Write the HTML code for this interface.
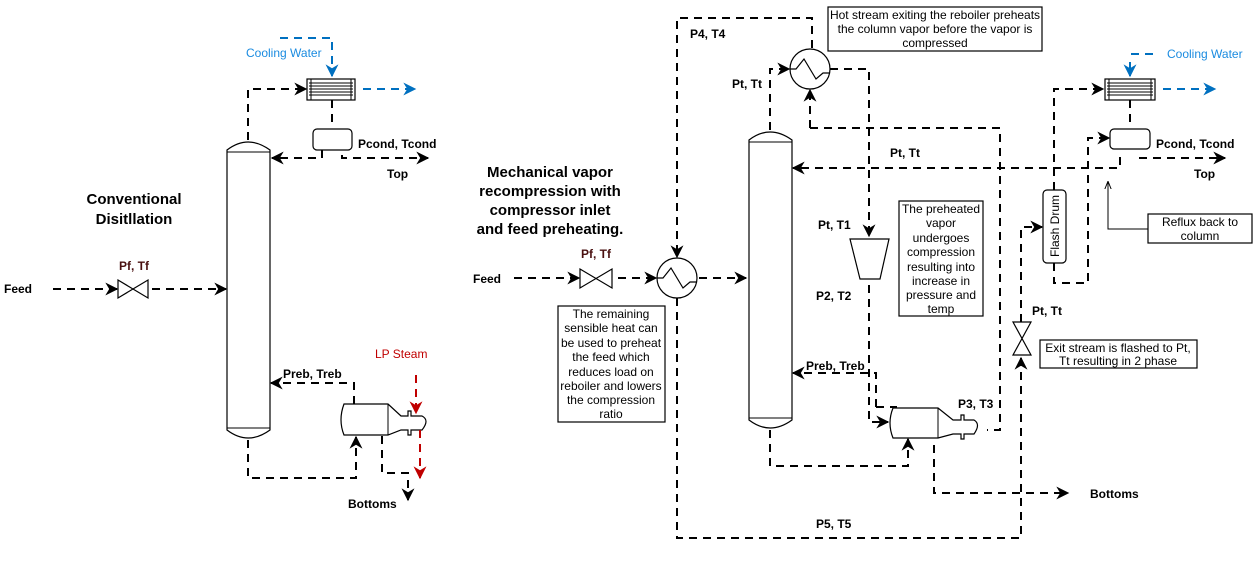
<!DOCTYPE html>
<html><head><meta charset="utf-8"><style>
html,body{margin:0;padding:0;background:#fff;}
svg{display:block;font-family:"Liberation Sans",Arial,sans-serif;}
.d{fill:none;stroke:#000;stroke-width:2;stroke-dasharray:8 6;}
.b{fill:none;stroke:#0070c0;stroke-width:2;stroke-dasharray:8 6;}
.r{fill:none;stroke:#c00000;stroke-width:2;stroke-dasharray:8 6;}
.s{fill:#fff;stroke:#000;stroke-width:1.2;}
.l{font-size:12px;font-weight:bold;}
.t{font-size:12px;text-anchor:middle;}
</style></head><body>
<svg width="1260" height="575" viewBox="0 0 1260 575" xmlns="http://www.w3.org/2000/svg">
<defs>
<marker id="a" viewBox="0 0 10 10" refX="9" refY="5" markerWidth="6.5" markerHeight="6.5" orient="auto"><path d="M0,0L10,5L0,10L3,5z" fill="#000"/></marker>
<marker id="ab" viewBox="0 0 10 10" refX="9" refY="5" markerWidth="6.5" markerHeight="6.5" orient="auto"><path d="M0,0L10,5L0,10L3,5z" fill="#0070c0"/></marker>
<marker id="ar" viewBox="0 0 10 10" refX="9" refY="5" markerWidth="6.5" markerHeight="6.5" orient="auto"><path d="M0,0L10,5L0,10L3,5z" fill="#c00000"/></marker>
<marker id="at" viewBox="0 0 10 10" refX="9" refY="5" markerWidth="8" markerHeight="8" orient="auto"><path d="M0,1L10,5L0,9" fill="none" stroke="#000" stroke-width="1.2"/></marker>
</defs>

<!-- ===== LEFT: Conventional ===== -->
<text x="134" y="204" class="l" style="font-size:15px" text-anchor="middle">Conventional</text>
<text x="134" y="224" class="l" style="font-size:15px" text-anchor="middle">Disitllation</text>
<path class="s" d="M227,150 Q248,134 270,150 L270,430 Q248,446 227,430 Z"/>
<line x1="227" y1="152" x2="270" y2="152" stroke="#000"/>
<line x1="227" y1="428" x2="270" y2="428" stroke="#000"/>
<path class="d" marker-end="url(#a)" d="M248,140 V89 H306"/>
<rect x="307" y="79" width="48" height="21" class="s"/>
<g stroke="#000" stroke-width="1"><line x1="309" y1="83" x2="353" y2="83"/><line x1="309" y1="86" x2="353" y2="86"/><line x1="309" y1="89" x2="353" y2="89"/><line x1="309" y1="92" x2="353" y2="92"/><line x1="309" y1="95" x2="353" y2="95"/><line x1="311" y1="79" x2="311" y2="100"/><line x1="351" y1="79" x2="351" y2="100"/></g>
<path class="b" marker-end="url(#ab)" d="M280,38 H332 V76"/>
<path class="b" marker-end="url(#ab)" d="M363,89 H415"/>
<text x="246" y="57" style="font-size:12px" fill="#1a8be0">Cooling Water</text>
<path class="d" d="M332,100 V128"/>
<rect x="313" y="129" width="39" height="21" rx="4" class="s"/>
<path class="d" marker-end="url(#a)" d="M322,150 V158 H272"/>
<path class="d" marker-end="url(#a)" d="M342,155 V158 H428"/>
<text x="358" y="148" class="l">Pcond, Tcond</text>
<text x="387" y="178" class="l">Top</text>
<text x="4" y="293" class="l">Feed</text>
<path class="d" marker-end="url(#a)" d="M53,289 H117"/>
<path class="s" d="M118,280 L148,298 L148,280 L118,298 Z"/>
<path class="d" marker-end="url(#a)" d="M152,289 H226"/>
<text x="119" y="270" class="l" fill="#4a1010">Pf, Tf</text>
<path class="d" marker-end="url(#a)" d="M248,440 V478 H356 V437"/>
<path class="d" marker-end="url(#a)" d="M354,404 V383 H271"/>
<text x="283" y="378" class="l">Preb, Treb</text>
<path class="s" d="M344,404 H388 L401,416 H408 V411 H411 V416 H422 Q430,420 422,430 H411 V435 H408 V430 H401 L388,435 H344 Q338,420 344,404 Z"/>
<line x1="388" y1="404" x2="388" y2="435" stroke="#000"/>
<path class="d" marker-end="url(#a)" d="M382,436 V473 H408 V500"/>
<text x="348" y="508" class="l">Bottoms</text>
<path class="r" marker-end="url(#ar)" d="M416,375 V413"/>
<path class="r" marker-end="url(#ar)" d="M420,430 V478"/>
<text x="375" y="358" style="font-size:12px" fill="#c00000">LP Steam</text>

<!-- ===== RIGHT: MVR ===== -->
<text x="550" y="177" class="l" style="font-size:15px" text-anchor="middle">Mechanical vapor</text>
<text x="550" y="196" class="l" style="font-size:15px" text-anchor="middle">recompression with</text>
<text x="550" y="215" class="l" style="font-size:15px" text-anchor="middle">compressor inlet</text>
<text x="550" y="234" class="l" style="font-size:15px" text-anchor="middle">and feed preheating.</text>
<path class="s" d="M749,140 Q770,124 792,140 L792,420 Q770,436 749,420 Z"/>
<line x1="749" y1="142" x2="792" y2="142" stroke="#000"/>
<line x1="749" y1="418" x2="792" y2="418" stroke="#000"/>
<text x="473" y="283" class="l">Feed</text>
<path class="d" marker-end="url(#a)" d="M514,278 H579"/>
<path class="s" d="M580,269 L612,288 L612,269 L580,288 Z"/>
<path class="d" marker-end="url(#a)" d="M618,278 H656"/>
<text x="581" y="258" class="l" fill="#4a1010">Pf, Tf</text>
<circle cx="677" cy="278" r="20" class="s"/>
<path d="M657,278 H663 L671,268 L683,288 L690,282 H697" fill="none" stroke="#000" stroke-width="1.2"/>
<path class="d" marker-end="url(#a)" d="M699,278 H746"/>
<path class="d" marker-end="url(#a)" d="M812,48 V18 H677 V257"/>
<path class="d" marker-end="url(#a)" d="M677,298 V538 H1021 V358"/>
<text x="690" y="38" class="l">P4, T4</text>
<text x="816" y="528" class="l">P5, T5</text>
<circle cx="810" cy="69" r="20" class="s"/>
<path d="M790,69 H796 L804,59 L816,79 L823,73 H830" fill="none" stroke="#000" stroke-width="1.2"/>
<path class="d" marker-end="url(#a)" d="M770,130 V69 H789"/>
<text x="732" y="88" class="l">Pt, Tt</text>
<path class="d" marker-end="url(#a)" d="M810,128 V90"/>
<path class="d" d="M810,128 H1000 V430 H987"/>
<path class="d" marker-end="url(#a)" d="M830,69 H869 V236"/>
<path class="s" d="M850,239 H889 L880,279 H860 Z"/>
<text x="818" y="229" class="l">Pt, T1</text>
<text x="816" y="300" class="l">P2, T2</text>
<path class="d" marker-end="url(#a)" d="M869,285 V422 H888"/>
<path class="d" marker-end="url(#a)" d="M876,407 V373 H793"/>
<path class="d" d="M876,407 H897"/>
<text x="806" y="370" class="l">Preb, Treb</text>
<path class="s" d="M893,408 H938 L953,420 H961 V415 H964 V420 H974 Q981,424 974,434 H964 V439 H961 V434 H953 L938,438 H893 Q887,423 893,408 Z"/>
<line x1="938" y1="408" x2="938" y2="438" stroke="#000"/>
<text x="958" y="408" class="l">P3, T3</text>
<path class="d" marker-end="url(#a)" d="M770,430 V466 H908 V439"/>
<path class="d" marker-end="url(#a)" d="M934,445 V493 H1068"/>
<text x="1090" y="498" class="l">Bottoms</text>
<path class="s" d="M1013,322 H1031 L1013,355 H1031 Z"/>
<text x="1032" y="315" class="l">Pt, Tt</text>
<path class="d" marker-end="url(#a)" d="M1021,322 V227 H1042"/>
<rect x="1043" y="190" width="23" height="73" rx="4" class="s"/>
<text x="0" y="0" transform="translate(1059,226) rotate(-90)" style="font-size:12px" text-anchor="middle">Flash Drum</text>
<path class="d" marker-end="url(#a)" d="M1054,190 V89 H1103"/>
<path class="d" marker-end="url(#a)" d="M1054,263 V283 H1088 V138 H1109"/>
<rect x="1105" y="79" width="50" height="21" class="s"/>
<g stroke="#000" stroke-width="1"><line x1="1107" y1="83" x2="1153" y2="83"/><line x1="1107" y1="86" x2="1153" y2="86"/><line x1="1107" y1="89" x2="1153" y2="89"/><line x1="1107" y1="92" x2="1153" y2="92"/><line x1="1107" y1="95" x2="1153" y2="95"/><line x1="1109" y1="79" x2="1109" y2="100"/><line x1="1151" y1="79" x2="1151" y2="100"/></g>
<path class="b" d="M1131,54 H1156"/>
<path stroke="#0070c0" stroke-width="2" marker-end="url(#ab)" d="M1130,62 V76"/>
<text x="1167" y="58" style="font-size:12px" fill="#1a8be0">Cooling Water</text>
<path class="b" marker-end="url(#ab)" d="M1163,89 H1215"/>
<path class="d" d="M1130,100 V128"/>
<rect x="1110" y="129" width="40" height="20" rx="4" class="s"/>
<path class="d" marker-end="url(#a)" d="M1120,157 V168 H793"/>
<path class="d" marker-end="url(#a)" d="M1140,157 V158 H1225"/>
<text x="1156" y="148" class="l">Pcond, Tcond</text>
<text x="1194" y="178" class="l">Top</text>
<text x="890" y="157" class="l">Pt, Tt</text>
<path d="M1148,229 H1108 V182" fill="none" stroke="#000" stroke-width="1" marker-end="url(#at)"/>
<rect x="1148" y="214" width="104" height="29" class="s" stroke-width="1"/>
<text x="1200" y="226" class="t">Reflux back to</text>
<text x="1200" y="240" class="t">column</text>
<rect x="828" y="7" width="214" height="44" class="s" stroke-width="1"/>
<text x="935" y="19" class="t">Hot stream exiting the reboiler preheats</text>
<text x="935" y="33" class="t">the column vapor before the vapor is</text>
<text x="935" y="47" class="t">compressed</text>
<rect x="899" y="201" width="84" height="115" class="s" stroke-width="1"/>
<g class="t"><text x="941" y="213">The preheated</text><text x="941" y="227">vapor</text><text x="941" y="242">undergoes</text><text x="941" y="256">compression</text><text x="941" y="271">resulting into</text><text x="941" y="285">increase in</text><text x="941" y="299">pressure and</text><text x="941" y="313">temp</text></g>
<rect x="558" y="306" width="107" height="116" class="s" stroke-width="1"/>
<g class="t"><text x="611" y="318">The remaining</text><text x="611" y="332">sensible heat can</text><text x="611" y="347">be used to preheat</text><text x="611" y="361">the feed which</text><text x="611" y="376">reduces load on</text><text x="611" y="390">reboiler and lowers</text><text x="611" y="404">the compression</text><text x="611" y="418">ratio</text></g>
<rect x="1040" y="340" width="157" height="28" class="s" stroke-width="1"/>
<text x="1118" y="352" class="t">Exit stream is flashed to Pt,</text>
<text x="1118" y="365" class="t">Tt resulting in 2 phase</text>
</svg>
</body></html>
